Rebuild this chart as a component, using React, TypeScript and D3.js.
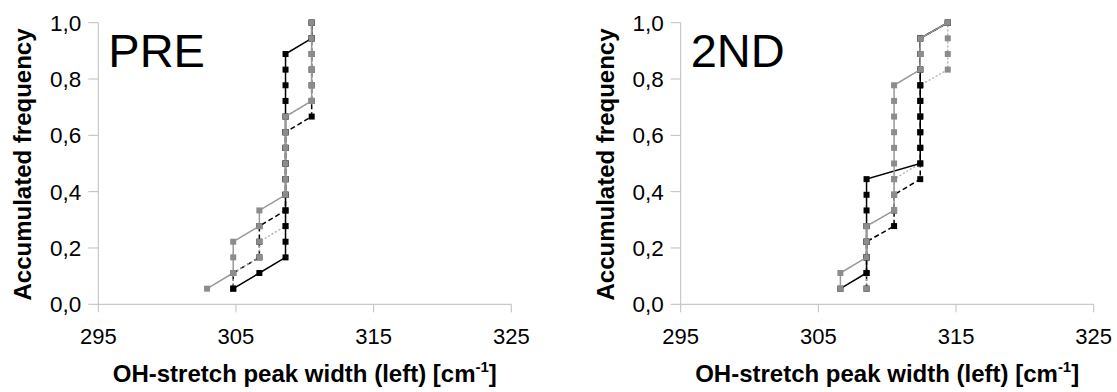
import * as d3 from "d3";

// cumulative frequency steps: point i sits at (i + 1) / 18
const steps = ["1/18", "2/18", "3/18", "4/18", "5/18", "6/18", "7/18", "8/18", "9/18",
    "10/18", "11/18", "12/18", "13/18", "14/18", "15/18", "16/18", "17/18", "18/18"];
const freq = steps.map(s => {
    const [a, b] = s.split("/").map(Number);
    return a / b;
});

const xTicks = [295, 305, 315, 325];
const yTicks = [0, 0.2, 0.4, 0.6, 0.8, 1.0];

// sorted peak widths per series, PRE panel
const preBlackSolid = [304.8, 306.7, 308.6, 308.6, 308.6, 308.6, 308.6, 308.6, 308.6, 308.6, 308.6, 308.6, 308.6, 308.6, 308.6, 308.6, 310.5, 310.5];
const preBlackDashed = [304.8, 304.8, 306.7, 306.7, 306.7, 308.6, 308.6, 308.6, 308.6, 308.6, 308.6, 310.5, 310.5, 310.5, 310.5, 310.5, 310.5, 310.5];
const preGraySolid = [302.9, 304.8, 304.8, 304.8, 306.7, 306.7, 308.6, 308.6, 308.6, 308.6, 308.6, 308.6, 310.5, 310.5, 310.5, 310.5, 310.5, 310.5];
const preGrayDashed = [304.8, 304.8, 306.7, 306.7, 308.6, 308.6, 308.6, 308.6, 308.6, 308.6, 308.6, 308.6, 310.5, 310.5, 310.5, 310.5, 310.5, 310.5];

// 2ND panel
const sndBlackSolid = [306.6, 308.5, 308.5, 308.5, 308.5, 308.5, 308.5, 308.5, 312.4, 312.4, 312.4, 312.4, 312.4, 312.4, 312.4, 312.4, 312.4, 314.4];
const sndBlackDashed = [308.5, 308.5, 308.5, 308.5, 310.5, 310.5, 310.5, 312.4, 312.4, 312.4, 312.4, 312.4, 312.4, 312.4, 312.4, 312.4, 312.4, 314.4];
const sndGraySolid = [306.6, 306.6, 308.5, 308.5, 308.5, 310.5, 310.5, 310.5, 310.5, 310.5, 310.5, 310.5, 310.5, 310.5, 312.4, 312.4, 312.4, 314.4];
const sndGrayDashed = [308.5, 308.5, 308.5, 308.5, 308.5, 310.5, 310.5, 310.5, 312.4, 312.4, 312.4, 312.4, 312.4, 312.4, 314.4, 314.4, 314.4, 314.4];

type Style = { stroke: string, fill: string, dash?: string, width: number };
const BLACK_SOLID: Style = {stroke: "#000", fill: "#000", width: 1.5};
const BLACK_DASHED: Style = {stroke: "#000", fill: "#000", dash: "5,3", width: 1.5};
const GRAY_SOLID: Style = {stroke: "#999", fill: "#8c8c8c", width: 1.5};
const GRAY_DASHED: Style = {stroke: "#aaa", fill: "#8c8c8c", dash: "2,2", width: 1.3};

const FONT = "'Liberation Sans', Arial, sans-serif";
const W = 413;
const top = 22.7, bottom = 304.3;

function Panel({left, title, series}: {
    left: number, title: string, series: { values: number[], style: Style }[]
}) {
    const x = d3.scaleLinear().domain([295, 325]).range([left, left + W]);
    const y = d3.scaleLinear().domain([0, 1]).range([bottom, top]);
    const line = d3.line<number>().x(d => x(d)).y((_, i) => y(freq[i]));
    const axis = "#bdbdbd";

    return (
        <g>
            <line x1={left} x2={left} y1={top} y2={bottom} stroke={axis}/>
            <line x1={left} x2={left + W} y1={bottom} y2={bottom} stroke={axis}/>
            {yTicks.map(t => (
                <g key={t}>
                    <line x1={left - 10} x2={left} y1={y(t)} y2={y(t)} stroke={axis}/>
                    <text x={left - 17} y={y(t)} dy="0.36em" textAnchor="end" fontSize={22.5}
                          fontFamily={FONT}>{d3.format(".1f")(t).replace(".", ",")}</text>
                </g>
            ))}
            {xTicks.map(t => (
                <g key={t}>
                    <line x1={x(t)} x2={x(t)} y1={bottom} y2={bottom + 8} stroke={axis}/>
                    <text x={x(t)} y={344} textAnchor="middle" fontSize={22} fontFamily={FONT}>{t}</text>
                </g>
            ))}
            <text x={left + 10} y={67} fontSize={47} fontFamily={FONT}>{title}</text>
            <text transform={`translate(${left - 67},${(top + bottom) / 2 + 1}) rotate(-90)`} textAnchor="middle"
                  fontSize={24} fontWeight="bold" fontFamily={FONT}>Accumulated frequency</text>
            <text x={left + W / 2} y={382} textAnchor="middle" fontSize={24} fontWeight="bold" fontFamily={FONT}>
                OH-stretch peak width (left) [cm<tspan fontSize={15} dy={-10}>-1</tspan><tspan dy={10}>]</tspan>
            </text>
            {series.map((s, si) => (
                <g key={si}>
                    <path d={line(s.values)!} fill="none" stroke={s.style.stroke} strokeWidth={s.style.width}
                          strokeDasharray={s.style.dash}/>
                    {s.values.map((v, i) => (
                        <rect key={i} x={x(v) - 3} y={y(freq[i]) - 3} width={6} height={6} fill={s.style.fill}/>
                    ))}
                </g>
            ))}
        </g>
    );
}

export default function App() {
    return (
        <svg width={1117} height={392} style={{position: "absolute", left: 0, top: 0, background: "#fff"}}>
            <Panel left={98.3} title="PRE" series={[
                {values: preBlackDashed, style: BLACK_DASHED},
                {values: preGrayDashed, style: GRAY_DASHED},
                {values: preBlackSolid, style: BLACK_SOLID},
                {values: preGraySolid, style: GRAY_SOLID},
            ]}/>
            <Panel left={680.7} title="2ND" series={[
                {values: sndBlackDashed, style: BLACK_DASHED},
                {values: sndGrayDashed, style: GRAY_DASHED},
                {values: sndBlackSolid, style: BLACK_SOLID},
                {values: sndGraySolid, style: GRAY_SOLID},
            ]}/>
        </svg>
    );
}
